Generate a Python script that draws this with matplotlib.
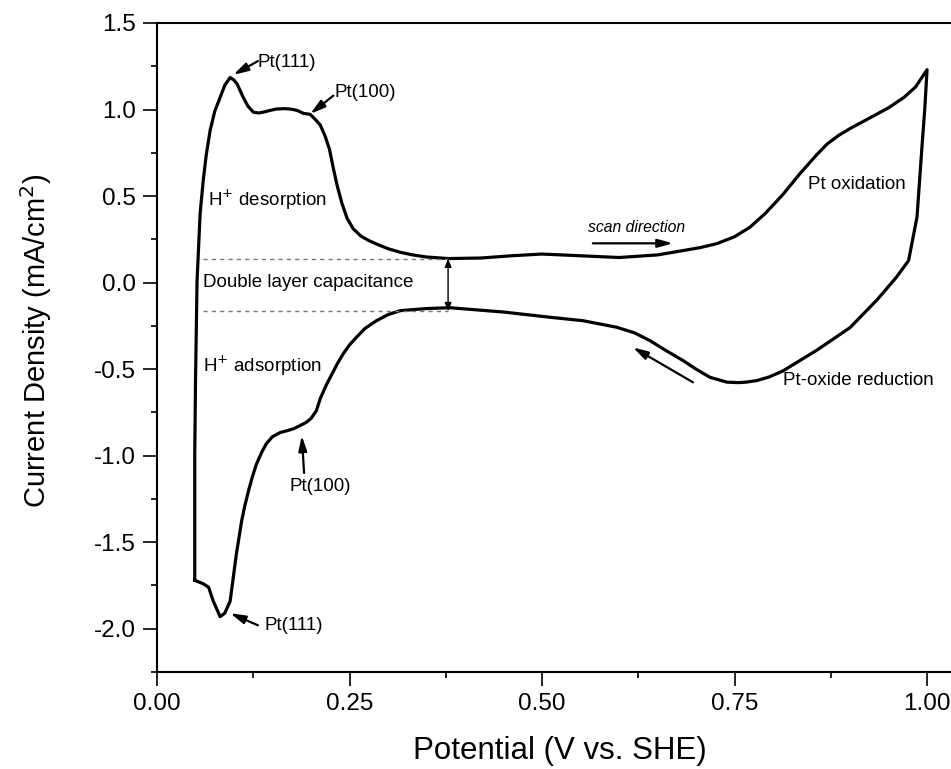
import matplotlib
matplotlib.use("Agg")
import matplotlib.pyplot as plt
from matplotlib.ticker import MultipleLocator, FormatStrFormatter

plt.rcParams['font.family'] = ['Liberation Sans', 'DejaVu Sans']

# anodic scan (upper branch), left vertex -> right vertex
anodic_x = [0.049, 0.049, 0.050, 0.052, 0.056, 0.060, 0.064, 0.069, 0.075, 0.082,
            0.088, 0.095, 0.100, 0.104, 0.112, 0.118, 0.125, 0.132, 0.138, 0.147,
            0.155, 0.165, 0.173, 0.182, 0.190, 0.199, 0.207, 0.212, 0.218, 0.224,
            0.229, 0.234, 0.240, 0.247, 0.255, 0.265, 0.275, 0.285, 0.300, 0.316,
            0.332, 0.350, 0.378, 0.420, 0.460, 0.500, 0.550, 0.600, 0.650, 0.683,
            0.705, 0.727, 0.750, 0.770, 0.790, 0.813, 0.835, 0.857, 0.870, 0.885,
            0.900, 0.925, 0.950, 0.970, 0.985, 1.000]
anodic_y = [-1.72, -1.00, -0.57, 0.01, 0.40, 0.59, 0.74, 0.88, 0.99, 1.07,
            1.14, 1.185, 1.17, 1.148, 1.07, 1.02, 0.985, 0.98, 0.985, 0.995,
            1.003, 1.005, 1.003, 0.995, 0.978, 0.972, 0.936, 0.91, 0.85, 0.77,
            0.66, 0.56, 0.46, 0.37, 0.31, 0.268, 0.243, 0.223, 0.196, 0.175,
            0.160, 0.148, 0.139, 0.142, 0.155, 0.165, 0.155, 0.145, 0.16, 0.185,
            0.202, 0.225, 0.265, 0.32, 0.40, 0.51, 0.63, 0.74, 0.80, 0.85,
            0.89, 0.95, 1.01, 1.07, 1.13, 1.23]

# cathodic scan (lower branch), right vertex -> left vertex
cathodic_x = [1.000, 0.997, 0.993, 0.987, 0.976, 0.960, 0.935, 0.900, 0.857, 0.813,
              0.795, 0.779, 0.765, 0.755, 0.740, 0.718, 0.700, 0.683, 0.660, 0.640,
              0.620, 0.597, 0.553, 0.510, 0.450, 0.380, 0.350, 0.316, 0.300, 0.285,
              0.270, 0.259, 0.250, 0.242, 0.234, 0.227, 0.220, 0.212, 0.207, 0.200,
              0.194, 0.185, 0.177, 0.168, 0.160, 0.150, 0.142, 0.136, 0.129, 0.124,
              0.119, 0.114, 0.110, 0.103, 0.095, 0.088, 0.082, 0.073, 0.067, 0.060,
              0.049]
cathodic_y = [1.23, 1.00, 0.76, 0.38, 0.127, 0.03, -0.10, -0.26, -0.39, -0.51,
              -0.545, -0.566, -0.575, -0.578, -0.575, -0.547, -0.50, -0.45, -0.39, -0.335,
              -0.29, -0.258, -0.22, -0.20, -0.17, -0.145, -0.15, -0.162, -0.185, -0.22,
              -0.265, -0.316, -0.36, -0.41, -0.47, -0.53, -0.59, -0.67, -0.74, -0.785,
              -0.807, -0.828, -0.845, -0.857, -0.866, -0.89, -0.93, -0.98, -1.05, -1.12,
              -1.20, -1.29, -1.375, -1.57, -1.84, -1.91, -1.93, -1.84, -1.76, -1.74,
              -1.72]

# double layer levels
dl_top = 0.139
dl_bottom = -0.166
dl_x = 0.378

fig = plt.figure(figsize=(9.51, 7.69), dpi=100)
ax = fig.add_axes([0.1651, 0.1261, 0.8502, 0.8440])

ax.plot(anodic_x + cathodic_x, anodic_y + cathodic_y, color='black', lw=2.3,
        solid_joinstyle='round')

ax.set_xlim(0, 1.05)
ax.set_ylim(-2.25, 1.5)

ax.xaxis.set_major_locator(MultipleLocator(0.25))
ax.xaxis.set_minor_locator(MultipleLocator(0.125))
ax.xaxis.set_major_formatter(FormatStrFormatter('%.2f'))
ax.yaxis.set_major_locator(MultipleLocator(0.5))
ax.yaxis.set_minor_locator(MultipleLocator(0.25))
ax.yaxis.set_major_formatter(FormatStrFormatter('%.1f'))

ax.tick_params(which='major', direction='out', length=10, width=1.2, labelsize=17.5, pad=5)
ax.tick_params(which='minor', direction='out', length=4.5, width=1.2)
ax.tick_params(top=False, right=False)
for side in ['left', 'bottom', 'top']:
    ax.spines[side].set_linewidth(1.5)
ax.spines['right'].set_visible(False)

ax.set_xlabel('Potential (V vs. SHE)', fontsize=22.5, va='center')
ax.xaxis.set_label_coords(0.4985, -0.1217)
ax.set_ylabel('Current Density (mA/cm$^2$)', fontsize=21, va='center')
ax.yaxis.set_label_coords(-0.150, 0.51)

# double layer markers
ax.plot([0.06, dl_x], [dl_top, dl_top], color='#777777', lw=1, dashes=(3, 3))
ax.plot([0.06, dl_x], [dl_bottom, dl_bottom], color='#777777', lw=1, dashes=(3, 3))
ax.annotate('', xy=(dl_x, dl_top), xytext=(dl_x, dl_bottom),
            arrowprops=dict(arrowstyle='<|-|>,head_length=0.5,head_width=0.2',
                            color='black', lw=1.0, shrinkA=0, shrinkB=0))

fs = 13.5
arrow = dict(arrowstyle='-|>,head_length=0.9,head_width=0.25', color='black',
             lw=1.6, shrinkA=0, shrinkB=0)

# peak labels: text and arrow placed separately
ax.text(0.131, 1.27, 'Pt(111)', fontsize=fs, ha='left', va='center')
ax.annotate('', xy=(0.099, 1.20), xytext=(0.131, 1.28), arrowprops=arrow)
ax.text(0.231, 1.10, 'Pt(100)', fontsize=fs, ha='left', va='center')
ax.annotate('', xy=(0.199, 0.975), xytext=(0.229, 1.08), arrowprops=arrow)
ax.text(0.212, -1.18, 'Pt(100)', fontsize=fs, ha='center', va='center')
ax.annotate('', xy=(0.188, -0.884), xytext=(0.191, -1.10), arrowprops=arrow)
ax.text(0.140, -1.98, 'Pt(111)', fontsize=fs, ha='left', va='center')
ax.annotate('', xy=(0.095, -1.91), xytext=(0.131, -1.98), arrowprops=arrow)

ax.text(0.066, 0.48, 'H$^{+}$ desorption', fontsize=fs, ha='left', va='center')
ax.text(0.060, -0.48, 'H$^{+}$ adsorption', fontsize=fs, ha='left', va='center')
ax.text(0.060, 0.003, 'Double layer capacitance', fontsize=fs, ha='left', va='center')
ax.text(0.845, 0.566, 'Pt oxidation', fontsize=fs, ha='left', va='center')
ax.text(0.813, -0.566, 'Pt-oxide reduction', fontsize=fs, ha='left', va='center')
ax.text(0.56, 0.32, 'scan direction', fontsize=11.3, style='italic', ha='left', va='center')

ax.annotate('', xy=(0.670, 0.227), xytext=(0.566, 0.227), arrowprops=arrow)
ax.annotate('', xy=(0.618, -0.374), xytext=(0.696, -0.576), arrowprops=arrow)

fig.savefig('out.png', dpi=100)
